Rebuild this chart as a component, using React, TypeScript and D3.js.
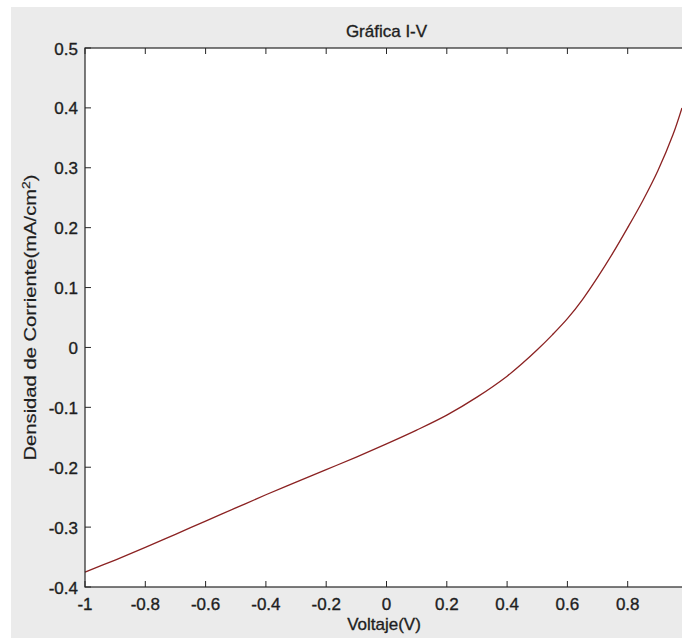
import React from "react";
import * as d3 from "d3";

const voltage = [-1, -0.9, -0.8, -0.7, -0.6, -0.5, -0.4, -0.3, -0.2, -0.1, 0, 0.1, 0.2, 0.3, 0.4, 0.45, 0.5, 0.55, 0.6, 0.65, 0.7, 0.75, 0.8, 0.85, 0.9, 0.95, 0.98];
const current = [-0.375, -0.355, -0.334, -0.312, -0.29, -0.268, -0.246, -0.225, -0.204, -0.183, -0.161, -0.138, -0.113, -0.083, -0.048, -0.027, -0.004, 0.021, 0.048, 0.08, 0.117, 0.157, 0.2, 0.245, 0.295, 0.355, 0.4];
const xTicks = [-1, -0.8, -0.6, -0.4, -0.2, 0, 0.2, 0.4, 0.6, 0.8];
const yTicks = [0.5, 0.4, 0.3, 0.2, 0.1, 0, -0.1, -0.2, -0.3, -0.4];
const title = "Gráfica I-V";
const xLabel = "Voltaje(V)";
const yLabel = "Densidad de Corriente(mA/cm";

const W = 682;
const H = 638;
const L = 85, R = 688, T = 48, B = 587;
const FONT = "'Liberation Sans', Arial, sans-serif";
const TXT = "#1e1e1e";

const fmt = (v: number) => (Math.abs(v) < 1e-9 ? "0" : String(+v.toFixed(1)));

export default function App() {
  const x = d3.scaleLinear().domain([-1, 1]).range([L, R]);
  const y = d3.scaleLinear().domain([-0.4, 0.5]).range([B, T]);
  const pts = voltage.map((v, i) => [v, current[i]] as [number, number]);
  const line = d3
    .line<[number, number]>()
    .x((d) => x(d[0]))
    .y((d) => y(d[1]))
    .curve(d3.curveCatmullRom.alpha(0.5));
  const tl = 6;
  const textStyle = { stroke: TXT, strokeWidth: 0.35 };
  return (
    <svg
      width={W}
      height={H}
      style={{ position: "absolute", left: 0, top: 0, display: "block" }}
      fontFamily={FONT}
    >
      <rect x={0} y={0} width={W} height={H} fill="#ffffff" />
      <rect x={11} y={7} width={W - 11} height={H - 7} fill="#ebebeb" />
      <rect x={L} y={T} width={R - L} height={B - T} fill="#ffffff" />
      <path d={line(pts) || ""} fill="none" stroke="#8b2222" strokeWidth={1.3} />
      <rect x={L} y={T} width={R - L} height={B - T} fill="none" stroke="#262626" strokeWidth={1.2} />
      {xTicks.map((t) => (
        <g key={"x" + t}>
          <line x1={x(t)} x2={x(t)} y1={B} y2={B - tl} stroke="#262626" strokeWidth={1} />
          <line x1={x(t)} x2={x(t)} y1={T} y2={T + tl} stroke="#262626" strokeWidth={1} />
          <text x={x(t)} y={610} textAnchor="middle" fontSize={17} fill={TXT} style={textStyle}>
            {fmt(t)}
          </text>
        </g>
      ))}
      {yTicks.map((t) => (
        <g key={"y" + t}>
          <line x1={L} x2={L + tl} y1={y(t)} y2={y(t)} stroke="#262626" strokeWidth={1} />
          <line x1={R} x2={R - tl} y1={y(t)} y2={y(t)} stroke="#262626" strokeWidth={1} />
          <text x={78} y={y(t) + 6.5} textAnchor="end" fontSize={17} fill={TXT} style={textStyle}>
            {fmt(t)}
          </text>
        </g>
      ))}
      <text x={(L + R) / 2} y={37} textAnchor="middle" fontSize={17} fill={TXT} style={textStyle}>
        {title}
      </text>
      <text x={384} y={630} textAnchor="middle" fontSize={17} fill={TXT} style={textStyle}>
        {xLabel}
      </text>
      <text
        transform={`translate(36, ${(T + B) / 2}) rotate(-90)`}
        textAnchor="middle"
        fontSize={16}
        fill={TXT}
        style={{ stroke: TXT, strokeWidth: 0.2 }}
        textLength={286}
        lengthAdjust="spacingAndGlyphs"
      >
        {yLabel}
        <tspan fontSize={11} dy={-6}>2</tspan>
        <tspan dy={6}>)</tspan>
      </text>
    </svg>
  );
}
